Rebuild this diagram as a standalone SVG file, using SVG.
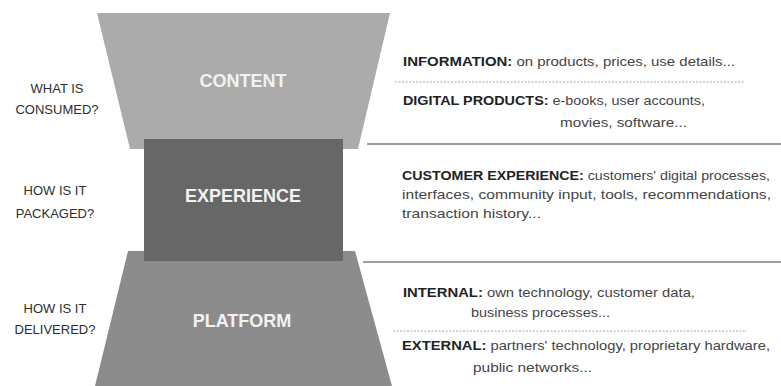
<svg xmlns="http://www.w3.org/2000/svg" width="781" height="386" viewBox="0 0 781 386">
<style>
.big{font-family:"Liberation Sans",Arial,sans-serif;font-weight:bold;font-size:18px;fill:#f2f2f2;text-anchor:middle}
.q{font-family:"Liberation Sans",Arial,sans-serif;font-size:13px;fill:#2e2e2e;text-anchor:middle}
.d{font-family:"Liberation Sans",Arial,sans-serif;font-size:13.5px;fill:#444}
.d .b{font-weight:bold;fill:#222}
.sol{stroke:#a0a0a0;stroke-width:2;fill:none}
.dot{stroke:#a8a8a8;stroke-width:1.2;stroke-dasharray:2 1.5;fill:none}
</style>
<rect width="781" height="386" fill="#ffffff"/>
<g id="content">
<polygon points="97,13 390,13 358,149 130,149" fill="#ababab"/>
<text class="big" x="243" y="87">CONTENT</text>
</g>
<g id="platform">
<polygon points="128,251 355,251 392,386 95,386" fill="#8c8c8c"/>
<text class="big" x="242" y="327">PLATFORM</text>
</g>
<g id="experience">
<rect x="144" y="139" width="199" height="122" fill="#676767"/>
<text class="big" x="243" y="202">EXPERIENCE</text>
</g>
<g id="questions">
<text class="q" x="57" y="93">WHAT IS</text>
<text class="q" x="57" y="114">CONSUMED?</text>
<text class="q" x="55" y="195">HOW IS IT</text>
<text class="q" x="55" y="218">PACKAGED?</text>
<text class="q" x="55" y="313">HOW IS IT</text>
<text class="q" x="55" y="334">DELIVERED?</text>
</g>
<g id="connectors">
<line class="sol" x1="367" y1="144" x2="781" y2="144"/>
<line class="sol" x1="363" y1="262" x2="781" y2="262"/>
<line class="dot" x1="395" y1="82" x2="745" y2="82"/>
<line class="dot" x1="393" y1="331" x2="747" y2="331"/>
</g>
<g id="content-details">
<text class="d" x="403" y="66" textLength="332" lengthAdjust="spacingAndGlyphs"><tspan class="b">INFORMATION:</tspan> on products, prices, use details...</text>
<text class="d" x="403" y="105" textLength="302" lengthAdjust="spacingAndGlyphs"><tspan class="b">DIGITAL PRODUCTS:</tspan> e-books, user accounts,</text>
<text class="d" x="560" y="127" textLength="127" lengthAdjust="spacingAndGlyphs">movies, software...</text>
</g>
<g id="experience-details">
<text class="d" x="402" y="180" textLength="368" lengthAdjust="spacingAndGlyphs"><tspan class="b">CUSTOMER EXPERIENCE:</tspan> customers' digital processes,</text>
<text class="d" x="402" y="199" textLength="369" lengthAdjust="spacingAndGlyphs">interfaces, community input, tools, recommendations,</text>
<text class="d" x="402" y="218" textLength="139" lengthAdjust="spacingAndGlyphs">transaction history...</text>
</g>
<g id="platform-details">
<text class="d" x="403" y="297" textLength="292" lengthAdjust="spacingAndGlyphs"><tspan class="b">INTERNAL:</tspan> own technology, customer data,</text>
<text class="d" x="471" y="317" textLength="139" lengthAdjust="spacingAndGlyphs">business processes...</text>
<text class="d" x="402" y="350" textLength="368" lengthAdjust="spacingAndGlyphs"><tspan class="b">EXTERNAL:</tspan> partners' technology, proprietary hardware,</text>
<text class="d" x="473" y="372" textLength="119" lengthAdjust="spacingAndGlyphs">public networks...</text>
</g>
</svg>
